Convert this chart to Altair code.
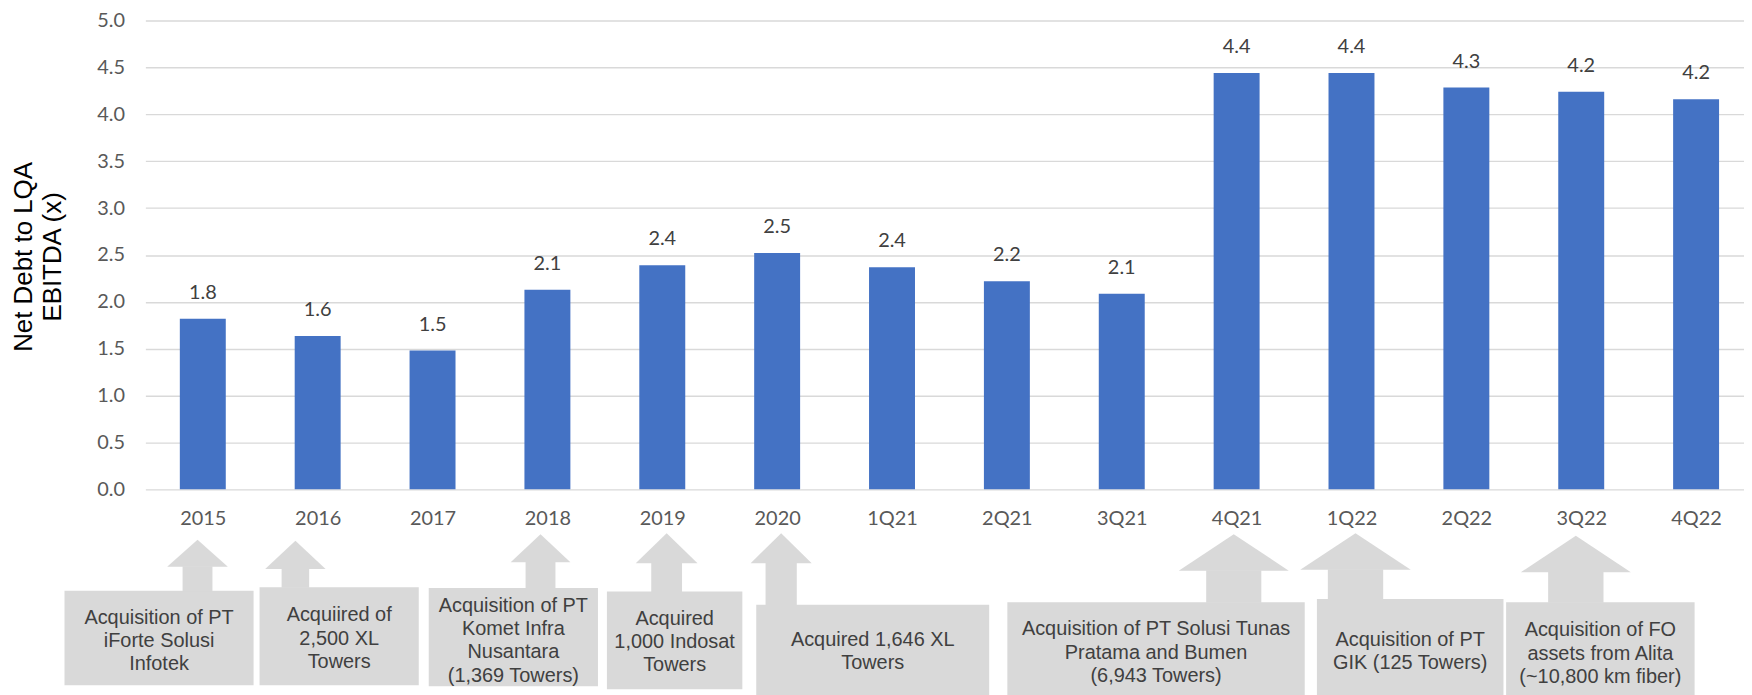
import json
import altair as alt
import pandas as pd

# ---------------- data ----------------
categories = ["2015", "2016", "2017", "2018", "2019", "2020", "1Q21", "2Q21",
              "3Q21", "4Q21", "1Q22", "2Q22", "3Q22", "4Q22"]
values = [1.82, 1.635, 1.48, 2.13, 2.39, 2.52, 2.37, 2.22, 2.085,
          4.44, 4.44, 4.285, 4.24, 4.16]
value_labels = ["1.8", "1.6", "1.5", "2.1", "2.4", "2.5", "2.4", "2.2", "2.1",
                "4.4", "4.4", "4.3", "4.2", "4.2"]
y_ticks = [0, 0.5, 1, 1.5, 2, 2.5, 3, 3.5, 4, 4.5, 5]

# annotation call-outs (positions in axis units: x = category index, y = ratio)
ann_text = [
    "Acquisition of PT\niForte Solusi\nInfotek",
    "Acquiired of\n2,500 XL\nTowers",
    "Acquisition of PT\nKomet Infra\nNusantara\n(1,369 Towers)",
    "Acquired\n1,000 Indosat\nTowers",
    "Acquired 1,646 XL\nTowers",
    "Acquisition of PT Solusi Tunas\nPratama and Bumen\n(6,943 Towers)",
    "Acquisition of PT\nGIK (125 Towers)",
    "Acquisition of FO\nassets from Alita\n(~10,800 km fiber)",
]
ann_arrow_x = [-0.046, 0.806, 2.940, 4.038, 5.035, 8.975, 10.035, 11.953]
ann_arrow_tip = [-0.538, -0.549, -0.478, -0.467, -0.467, -0.478, -0.467, -0.496]
ann_head_base = [-0.825, -0.849, -0.778, -0.789, -0.789, -0.867, -0.857, -0.884]
ann_head_half = [0.264, 0.263, 0.26, 0.269, 0.266, 0.479, 0.481, 0.479]
ann_stem_half = [0.13, 0.12, 0.13, 0.134, 0.136, 0.24, 0.241, 0.241]
ann_box_left = [-1.204, 0.494, 1.967, 3.518, 4.818, 7.004, 9.699, 11.346]
ann_box_right = [0.442, 1.880, 3.440, 4.697, 6.846, 9.593, 11.323, 12.987]
ann_box_top = [-1.080, -1.044, -1.051, -1.090, -1.231, -1.203, -1.168, -1.203]
ann_box_bottom = [-2.088, -2.088, -2.099, -2.131, -2.3, -2.3, -2.3, -2.3]
ann_first_line_y = [-1.369, -1.345, -1.245, -1.380, -1.610, -1.494, -1.610, -1.504]

# ---------------- tables ----------------
BAR_HALF = 0.2
bars = pd.DataFrame({
    "cat": categories,
    "idx": list(range(len(categories))),
    "value": values,
    "label": value_labels,
})
bars["x0"] = bars["idx"] - BAR_HALF
bars["x1"] = bars["idx"] + BAR_HALF

boxes = pd.DataFrame({
    "l": ann_box_left, "r": ann_box_right,
    "t": ann_box_top, "b": ann_box_bottom,
    "tx": [(a + b) / 2 for a, b in zip(ann_box_left, ann_box_right)],
    "ty": ann_first_line_y, "text": ann_text,
})
stems = pd.DataFrame({
    "l": [c - s for c, s in zip(ann_arrow_x, ann_stem_half)],
    "r": [c + s for c, s in zip(ann_arrow_x, ann_stem_half)],
    "t": [h + 0.005 for h in ann_head_base],
    "b": [t - 0.005 for t in ann_box_top],
})
head_rows = []
for i, (c, tip, base, hh) in enumerate(zip(ann_arrow_x, ann_arrow_tip, ann_head_base, ann_head_half)):
    head_rows.append({"id": i, "x": c - hh, "y": base, "y2": base})
    head_rows.append({"id": i, "x": c, "y": tip, "y2": base})
    head_rows.append({"id": i, "x": c + hh, "y": base, "y2": base})
heads = pd.DataFrame(head_rows)

# ---------------- scales & axes ----------------
xs = alt.Scale(domain=[-0.5, 13.417], nice=False, zero=False)
ys = alt.Scale(domain=[0, 5], nice=False, zero=False)

NUM_FONT = "Lato"
ANN_FONT = "Liberation Sans"
GREY_TXT = "#595959"
FILL = "#D9D9D9"
Y_TITLE = ["Net Debt to LQA", "EBITDA (x)"]

label_expr = json.dumps(categories) + "[datum.value]"

X_AX = alt.Axis(
    values=list(range(len(categories))), labelExpr=label_expr,
    title=None, grid=False, domain=False, ticks=False, tickSize=0,
    labelPadding=19, labelFont=NUM_FONT, labelFontSize=20,
    labelColor=GREY_TXT, labelFlush=False, labelOverlap=False)
Y_AX = alt.Axis(
    values=y_ticks, format=".1f", title=Y_TITLE,
    grid=True, gridColor=FILL, gridWidth=1.4, domain=False, ticks=False,
    tickSize=0, labelPadding=21, labelFont=NUM_FONT, labelFontSize=20,
    labelColor=GREY_TXT, labelFlush=False,
    titleFont=ANN_FONT, titleFontSize=26, titleFontWeight="normal",
    titleColor="#000000", titleAngle=270, titleX=-122, titleY=237,
    titleBaseline="middle", titleAlign="center", titleLineHeight=28.5)


def X(field):
    return alt.X(field, scale=xs, axis=X_AX, title=None)


def Y(field, **kw):
    return alt.Y(field, scale=ys, axis=Y_AX, title=Y_TITLE, **kw)


bar_layer = alt.Chart(bars).mark_rect(color="#4472C4").encode(
    x=X("x0:Q"), x2="x1:Q", y=Y("value:Q"), y2=alt.datum(0),
)

bar_text = alt.Chart(bars).mark_text(
    font=NUM_FONT, fontSize=20, color="#404040", baseline="middle", dy=-26
).encode(x=X("idx:Q"), y=Y("value:Q"), text="label:N")

box_layer = alt.Chart(boxes).mark_rect(color=FILL).encode(
    x=X("l:Q"), x2="r:Q", y=Y("t:Q"), y2="b:Q",
)
stem_layer = alt.Chart(stems).mark_rect(color=FILL).encode(
    x=X("l:Q"), x2="r:Q", y=Y("t:Q"), y2="b:Q",
)
head_layer = alt.Chart(heads).mark_area(color=FILL, opacity=1).encode(
    x=X("x:Q"), y=Y("y:Q", stack=None), y2="y2:Q", detail="id:N",
)
box_text = alt.Chart(boxes).mark_text(
    font=ANN_FONT, fontSize=20, color="#404040", align="center",
    baseline="middle", lineBreak="\n", lineHeight=23.3
).encode(x=X("tx:Q"), y=Y("ty:Q"), text="text:N")

chart = alt.layer(
    bar_layer, bar_text, box_layer, stem_layer, head_layer, box_text
).properties(
    width=1606, height=471,
    autosize=alt.AutoSizeParams(type="none"),
    padding={"left": 138, "top": 11, "right": 0, "bottom": 205},
).configure(background="white").configure_view(stroke=None)

chart.save("out.html", embed_options={"renderer": "svg", "actions": False})
